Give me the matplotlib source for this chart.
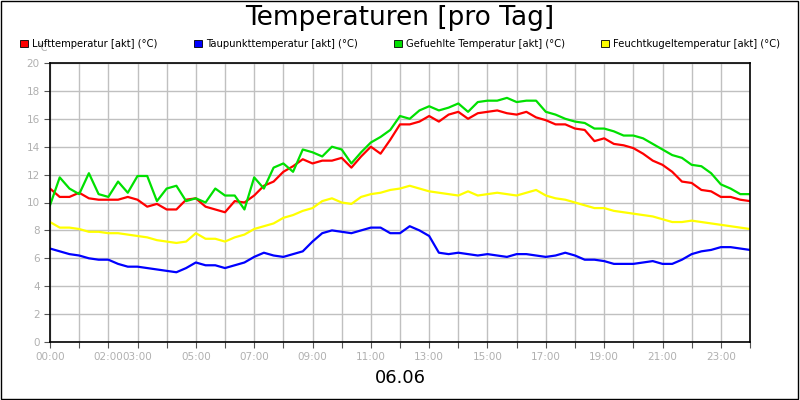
import numpy as np
import matplotlib.pyplot as plt
from matplotlib.patches import Patch, Rectangle

# values every 20 minutes, 00:00 .. 24:00
luft = [11.0, 10.4, 10.4, 10.7, 10.3, 10.2, 10.2, 10.2, 10.4, 10.2, 9.7, 9.9,
        9.5, 9.5, 10.2, 10.3, 9.7, 9.5, 9.3, 10.1, 10.0, 10.5, 11.2, 11.5,
        12.2, 12.6, 13.1, 12.8, 13.0, 13.0, 13.2, 12.5, 13.3, 14.0, 13.5, 14.5,
        15.6, 15.6, 15.8, 16.2, 15.8, 16.3, 16.5, 16.0, 16.4, 16.5, 16.6, 16.4,
        16.3, 16.5, 16.1, 15.9, 15.6, 15.6, 15.3, 15.2, 14.4, 14.6, 14.2, 14.1,
        13.9, 13.5, 13.0, 12.7, 12.2, 11.5, 11.4, 10.9, 10.8, 10.4, 10.4, 10.2,
        10.1]
taupunkt = [6.7, 6.5, 6.3, 6.2, 6.0, 5.9, 5.9, 5.6, 5.4, 5.4, 5.3, 5.2,
            5.1, 5.0, 5.3, 5.7, 5.5, 5.5, 5.3, 5.5, 5.7, 6.1, 6.4, 6.2,
            6.1, 6.3, 6.5, 7.2, 7.8, 8.0, 7.9, 7.8, 8.0, 8.2, 8.2, 7.8,
            7.8, 8.3, 8.0, 7.6, 6.4, 6.3, 6.4, 6.3, 6.2, 6.3, 6.2, 6.1,
            6.3, 6.3, 6.2, 6.1, 6.2, 6.4, 6.2, 5.9, 5.9, 5.8, 5.6, 5.6,
            5.6, 5.7, 5.8, 5.6, 5.6, 5.9, 6.3, 6.5, 6.6, 6.8, 6.8, 6.7,
            6.6]
gefuehlt = [9.8, 11.8, 11.0, 10.6, 12.1, 10.6, 10.4, 11.5, 10.7, 11.9, 11.9, 10.1,
            11.0, 11.2, 10.1, 10.3, 10.0, 11.0, 10.5, 10.5, 9.5, 11.8, 11.0, 12.5,
            12.8, 12.2, 13.8, 13.6, 13.3, 14.0, 13.8, 12.8, 13.6, 14.3, 14.7, 15.2,
            16.2, 16.0, 16.6, 16.9, 16.6, 16.8, 17.1, 16.5, 17.2, 17.3, 17.3, 17.5,
            17.2, 17.3, 17.3, 16.5, 16.3, 16.0, 15.8, 15.7, 15.3, 15.3, 15.1, 14.8,
            14.8, 14.6, 14.2, 13.8, 13.4, 13.2, 12.7, 12.6, 12.1, 11.3, 11.0, 10.6,
            10.6]
feuchtkugel = [8.6, 8.2, 8.2, 8.1, 7.9, 7.9, 7.8, 7.8, 7.7, 7.6, 7.5, 7.3,
               7.2, 7.1, 7.2, 7.8, 7.4, 7.4, 7.2, 7.5, 7.7, 8.1, 8.3, 8.5,
               8.9, 9.1, 9.4, 9.6, 10.1, 10.3, 10.0, 9.9, 10.4, 10.6, 10.7, 10.9,
               11.0, 11.2, 11.0, 10.8, 10.7, 10.6, 10.5, 10.8, 10.5, 10.6, 10.7, 10.6,
               10.5, 10.7, 10.9, 10.5, 10.3, 10.2, 10.0, 9.8, 9.6, 9.6, 9.4, 9.3,
               9.2, 9.1, 9.0, 8.8, 8.6, 8.6, 8.7, 8.6, 8.5, 8.4, 8.3, 8.2,
               8.1]
labels = ["Lufttemperatur [akt] (°C)", "Taupunkttemperatur [akt] (°C)",
          "Gefuehlte Temperatur [akt] (°C)", "Feuchtkugeltemperatur [akt] (°C)"]
colors = ["#ff0000", "#0000ff", "#00e000", "#ffff00"]
tick_labels = {0: "00:00", 2: "02:00", 3: "03:00", 5: "05:00", 7: "07:00", 9: "09:00",
               11: "11:00", 13: "13:00", 15: "15:00", 17: "17:00", 19: "19:00",
               21: "21:00", 23: "23:00"}

hours = np.arange(len(luft)) / 3.0

fig = plt.figure(figsize=(8, 4), dpi=100)
fig.patches.append(Rectangle((0.001, 0.002), 0.997, 0.995, transform=fig.transFigure,
                             fill=False, edgecolor="black", linewidth=1))
ax = fig.add_axes([0.0625, 0.145, 0.875, 0.6975])

for series, c in zip([luft, taupunkt, gefuehlt, feuchtkugel], colors):
    ax.plot(hours, series, color=c, linewidth=1.6)

ax.set_xlim(0, 24)
ax.set_ylim(0, 20)
ax.set_xticks(range(25))
ax.set_xticklabels([tick_labels.get(h, "") for h in range(25)])
ax.set_yticks(range(0, 21, 2))
ax.grid(True, color="#c0c0c0", linewidth=1)
ax.set_axisbelow(True)
ax.tick_params(colors="#555555", labelcolor="#b0b0b0", labelsize=7.5, length=4)
for s in ax.spines.values():
    s.set_linewidth(1.2)

fig.text(0.5, 0.955, "Temperaturen [pro Tag]", ha="center", va="center", fontsize=19)
fig.text(0.052, 0.88, "°C", ha="center", va="center", fontsize=7, color="#b0b0b0")
fig.text(0.5, 0.055, "06.06", ha="center", va="center", fontsize=13)

handles = [Patch(facecolor=c, edgecolor="black", linewidth=0.6) for c in colors]
fig.legend(handles, labels, loc="center", bbox_to_anchor=(0.5, 0.89), ncol=4,
           frameon=False, fontsize=7.2, handlelength=0.8, handleheight=0.8,
           handletextpad=0.4, columnspacing=3.6)

fig.savefig("out.png", dpi=100, facecolor="white")
